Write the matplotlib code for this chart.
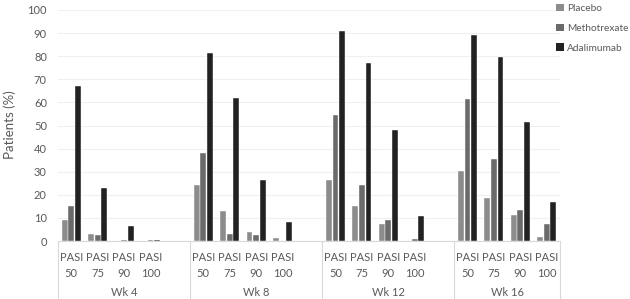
import matplotlib
matplotlib.use("Agg")
import matplotlib.pyplot as plt
import matplotlib.transforms as mtransforms
from matplotlib.patches import Patch
import numpy as np

plt.rcParams['font.family'] = ['Lato', 'DejaVu Sans']

weeks = ["Wk 4", "Wk 8", "Wk 12", "Wk 16"]
pasi = ["PASI\n50", "PASI\n75", "PASI\n90", "PASI\n100"]
series = ["Placebo", "Methotrexate", "Adalimumab"]

placebo = [9.3, 2.9, 0.0, 0.0,
           24.4, 13.1, 3.7, 1.4,
           26.3, 15.0, 7.5, 0.0,
           30.3, 18.5, 11.2, 1.8]
methotrexate = [15.3, 2.7, 0.5, 0.5,
                38.2, 3.0, 2.6, 0.0,
                54.5, 24.4, 9.2, 0.8,
                61.5, 35.3, 13.5, 7.3]
adalimumab = [67.3, 23.0, 6.5, 0.5,
              81.4, 62.0, 26.4, 8.3,
              90.8, 76.9, 48.0, 11.0,
              89.0, 79.8, 51.3, 16.7]

colors = ["#8c8c8c", "#6b6b6b", "#222222"]
txt = "#595959"

fig = plt.figure(figsize=(6.30, 2.99), dpi=100)
ax = fig.add_axes([58/630, 1-241/299, (560-58)/630, (241-10)/299])

slots = len(pasi) + 1
pos = np.array([g*slots + k for g in range(len(weeks)) for k in range(len(pasi))], dtype=float)
w = 0.22
step = 0.25
for i, (vals, c) in enumerate(zip([placebo, methotrexate, adalimumab], colors)):
    ax.bar(pos + (i-1)*step, vals, width=w, color=c, edgecolor="white", linewidth=0.3, zorder=3)

ax.set_ylim(0, 100)
ax.set_xlim(-0.5, len(weeks)*slots - 1.5)
ax.set_yticks(np.arange(0, 101, 10))
ax.tick_params(axis='y', length=0, labelsize=8, labelcolor=txt, pad=8)
ax.yaxis.grid(True, color="#f0f0f0", linewidth=0.8, zorder=0)
ax.set_xticks(pos)
ax.set_xticklabels(pasi * len(weeks), fontsize=8, color=txt, linespacing=1.55)
ax.tick_params(axis='x', length=0, pad=8)
for s in ["top", "right", "left"]:
    ax.spines[s].set_visible(False)
ax.spines["bottom"].set_color("#d9d9d9")
ax.spines["bottom"].set_linewidth(0.8)

trans = mtransforms.blended_transform_factory(ax.transData, ax.transAxes)
bottom_ax = -(299-241)/231
bounds = [g*slots - 0.5 for g in range(len(weeks))] + [len(weeks)*slots - 1.5]
for b in bounds:
    ax.plot([b, b], [0, bottom_ax], transform=trans, color="#d9d9d9", lw=0.8, clip_on=False)
for g, wk in enumerate(weeks):
    left = bounds[g]
    right = bounds[g+1] if g+1 < len(bounds) else bounds[-1]
    if g < len(weeks) - 1:
        right = g*slots + len(pasi) + 0.5
    ax.text((left + right)/2, -(293-241)/231, wk, transform=trans, ha="center", va="center",
            fontsize=8, color=txt)

fig.text(10/630, 1-125/299, "Patients (%)", rotation=90, ha="center", va="center", fontsize=9.5, color=txt)

handles = [Patch(facecolor=c, edgecolor="none") for c in colors]
leg = fig.legend(handles, series, loc="upper left", bbox_to_anchor=(550/630, 1.008), frameon=False,
                 fontsize=7.3, handlelength=0.75, handleheight=0.75, handletextpad=0.3, labelspacing=1.05,
                 borderaxespad=0.2)
for t in leg.get_texts():
    t.set_color(txt)

fig.savefig("out.png", dpi=100)
